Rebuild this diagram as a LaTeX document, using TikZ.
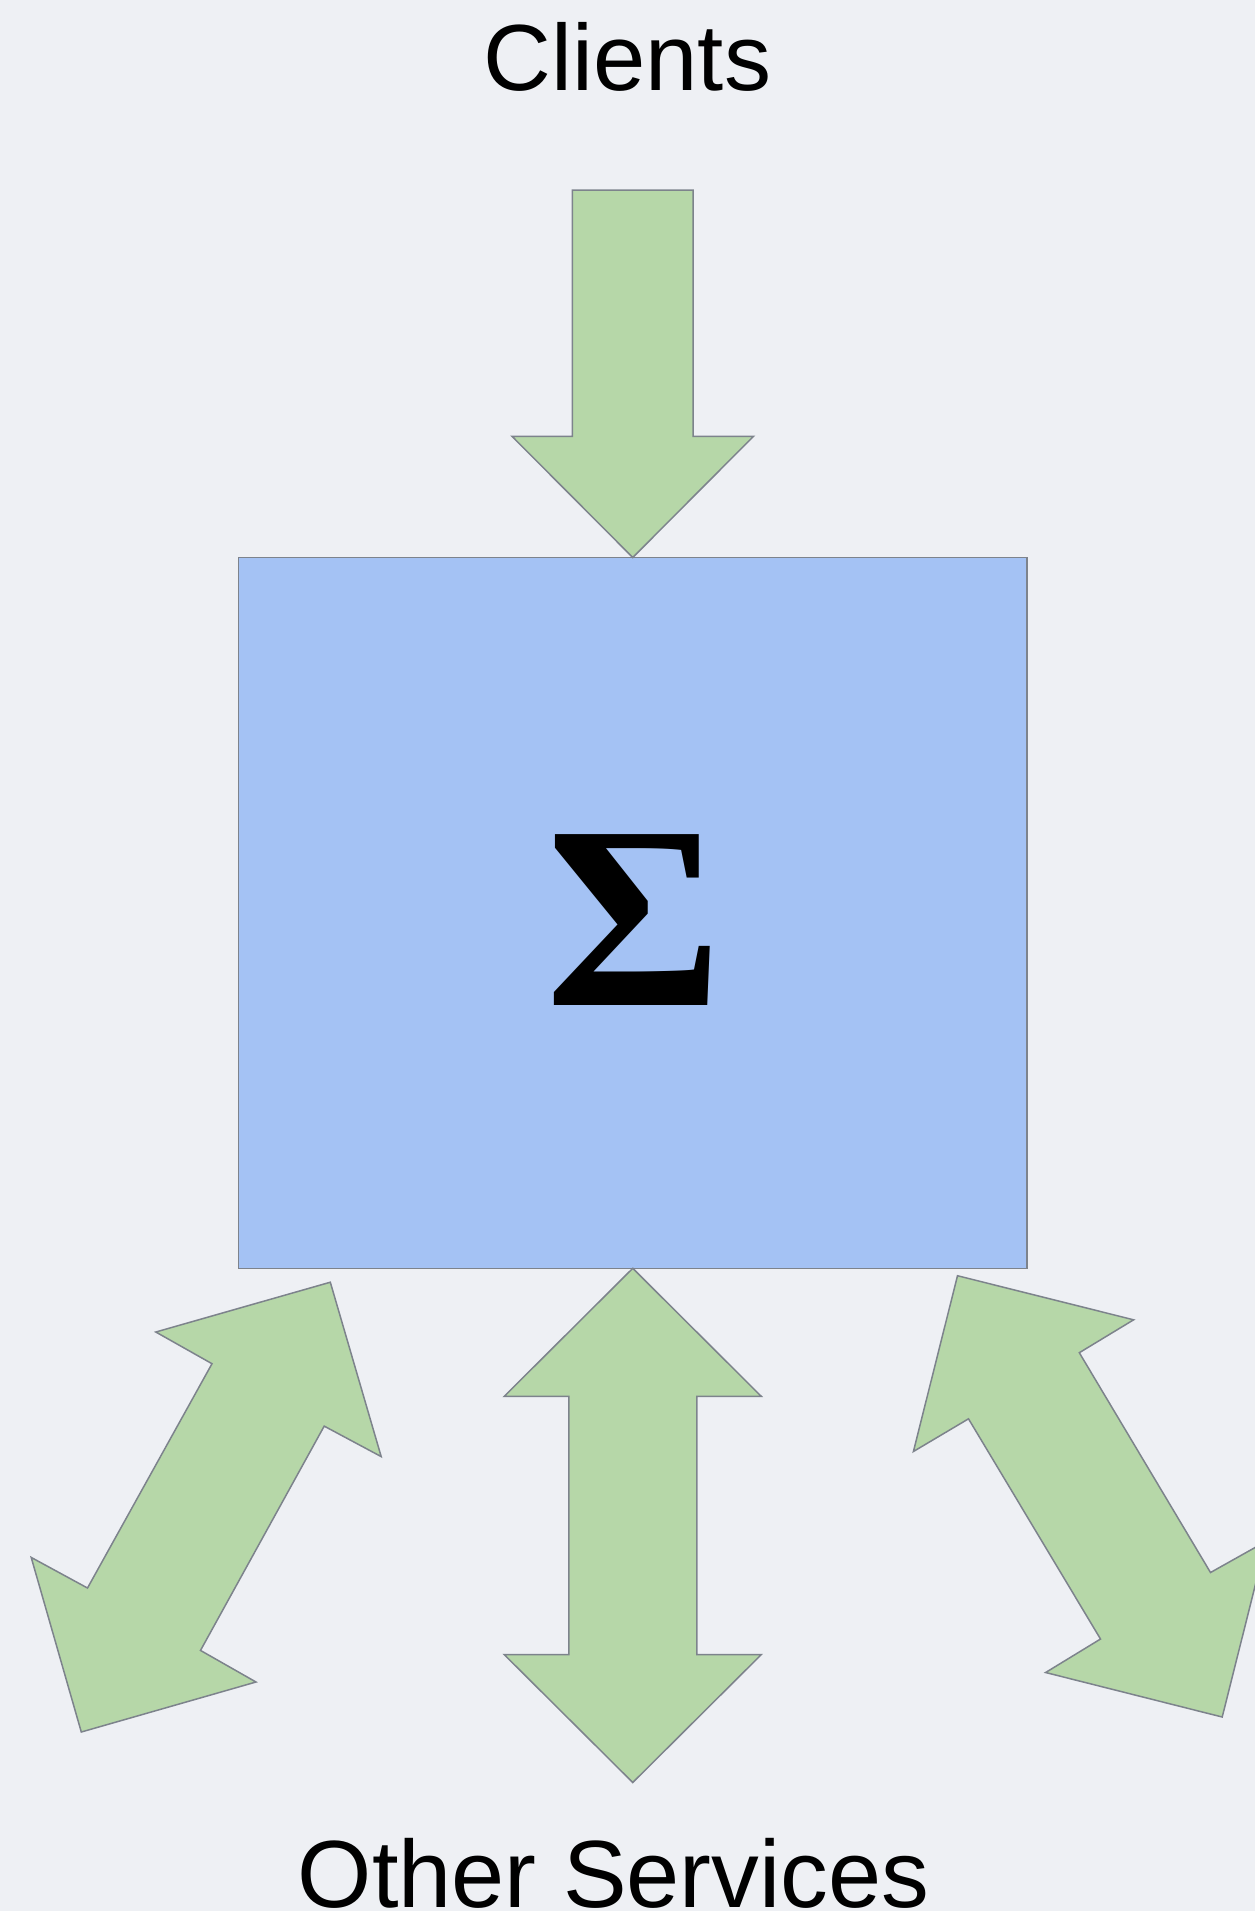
\documentclass[tikz,border=0pt]{standalone}
\usepackage{fontspec}
\setmainfont{Liberation Sans}
\newfontfamily\sigmafont{Liberation Serif}
\usepackage{xcolor}
\usepackage{tikz}
\usetikzlibrary{positioning}
\definecolor{svBack}{HTML}{EEF0F4}
\definecolor{svCore}{HTML}{A4C2F4}
\definecolor{svFlow}{HTML}{B6D7A8}
\definecolor{svEdge}{HTML}{7D838C}
\tikzset{
  sv-core/.style={
    rectangle, draw=svEdge, fill=svCore, line width=1.5pt,
    inner sep=0pt, outer sep=0pt
  },
  sv-flow/.style={draw=svEdge, fill=svFlow, line width=1.5pt, line join=miter},
  sv-label/.style={inner sep=0pt, anchor=base, font=\fontsize{94}{110}\selectfont},
  sv-sigma/.style={inner sep=0pt, anchor=base, font=\sigmafont\bfseries\fontsize{261}{300}\selectfont},
}

\begin{document}
\begin{tikzpicture}[x=1pt, y=-1pt]
  \fill[svBack] (0,0) rectangle (1255,1911);
  \useasboundingbox (0,0) rectangle (1255,1911);
  \clip (0,0) rectangle (1255,1911);

  \node[sv-label] (clients) at (627.5,91)   {Clients};
  \node[sv-label, font=\fontsize{95.5}{110}\selectfont] (others) at (613.5,1907) {Other Services};

  \node[sv-core, minimum width=788.5pt, minimum height=710.8pt] (core) at (632.75,912.9) {};
  \node[sv-sigma] (sigma) at (634,1005) {\scalebox{1.04}[1]{Σ}};

  % clients -> core
  \draw[sv-flow] (572.4,190) -- (693.1,190) -- (693.1,436.3) -- (753.5,436.3)
    -- (core.north) -- (512,436.3) -- (572.4,436.3) -- cycle;
  % core <-> other services
  \draw[sv-flow] (core.south) -- (761.25,1396.3) -- (696.75,1396.3) -- (696.75,1654.6)
    -- (761.25,1654.6) -- (632.75,1782.5) -- (504.25,1654.6) -- (568.75,1654.6)
    -- (568.75,1396.3) -- (504.25,1396.3) -- cycle;
  \draw[sv-flow] (330.3,1282.2) -- (381.2,1456.6) -- (324.2,1426.1) -- (200.5,1650.4)
    -- (256,1682) -- (81.3,1732) -- (31.2,1557.4) -- (87.5,1588)
    -- (212,1363.7) -- (155.8,1332) -- cycle;
  \draw[sv-flow] (957.5,1275.7) -- (1133.6,1319.8) -- (1079.3,1352.7) -- (1210.5,1572.5)
    -- (1266.3,1541.2) -- (1222.2,1717) -- (1045.6,1672.5) -- (1100.5,1639)
    -- (968.5,1418.8) -- (913.4,1451.5) -- cycle;
\end{tikzpicture}
\end{document}
